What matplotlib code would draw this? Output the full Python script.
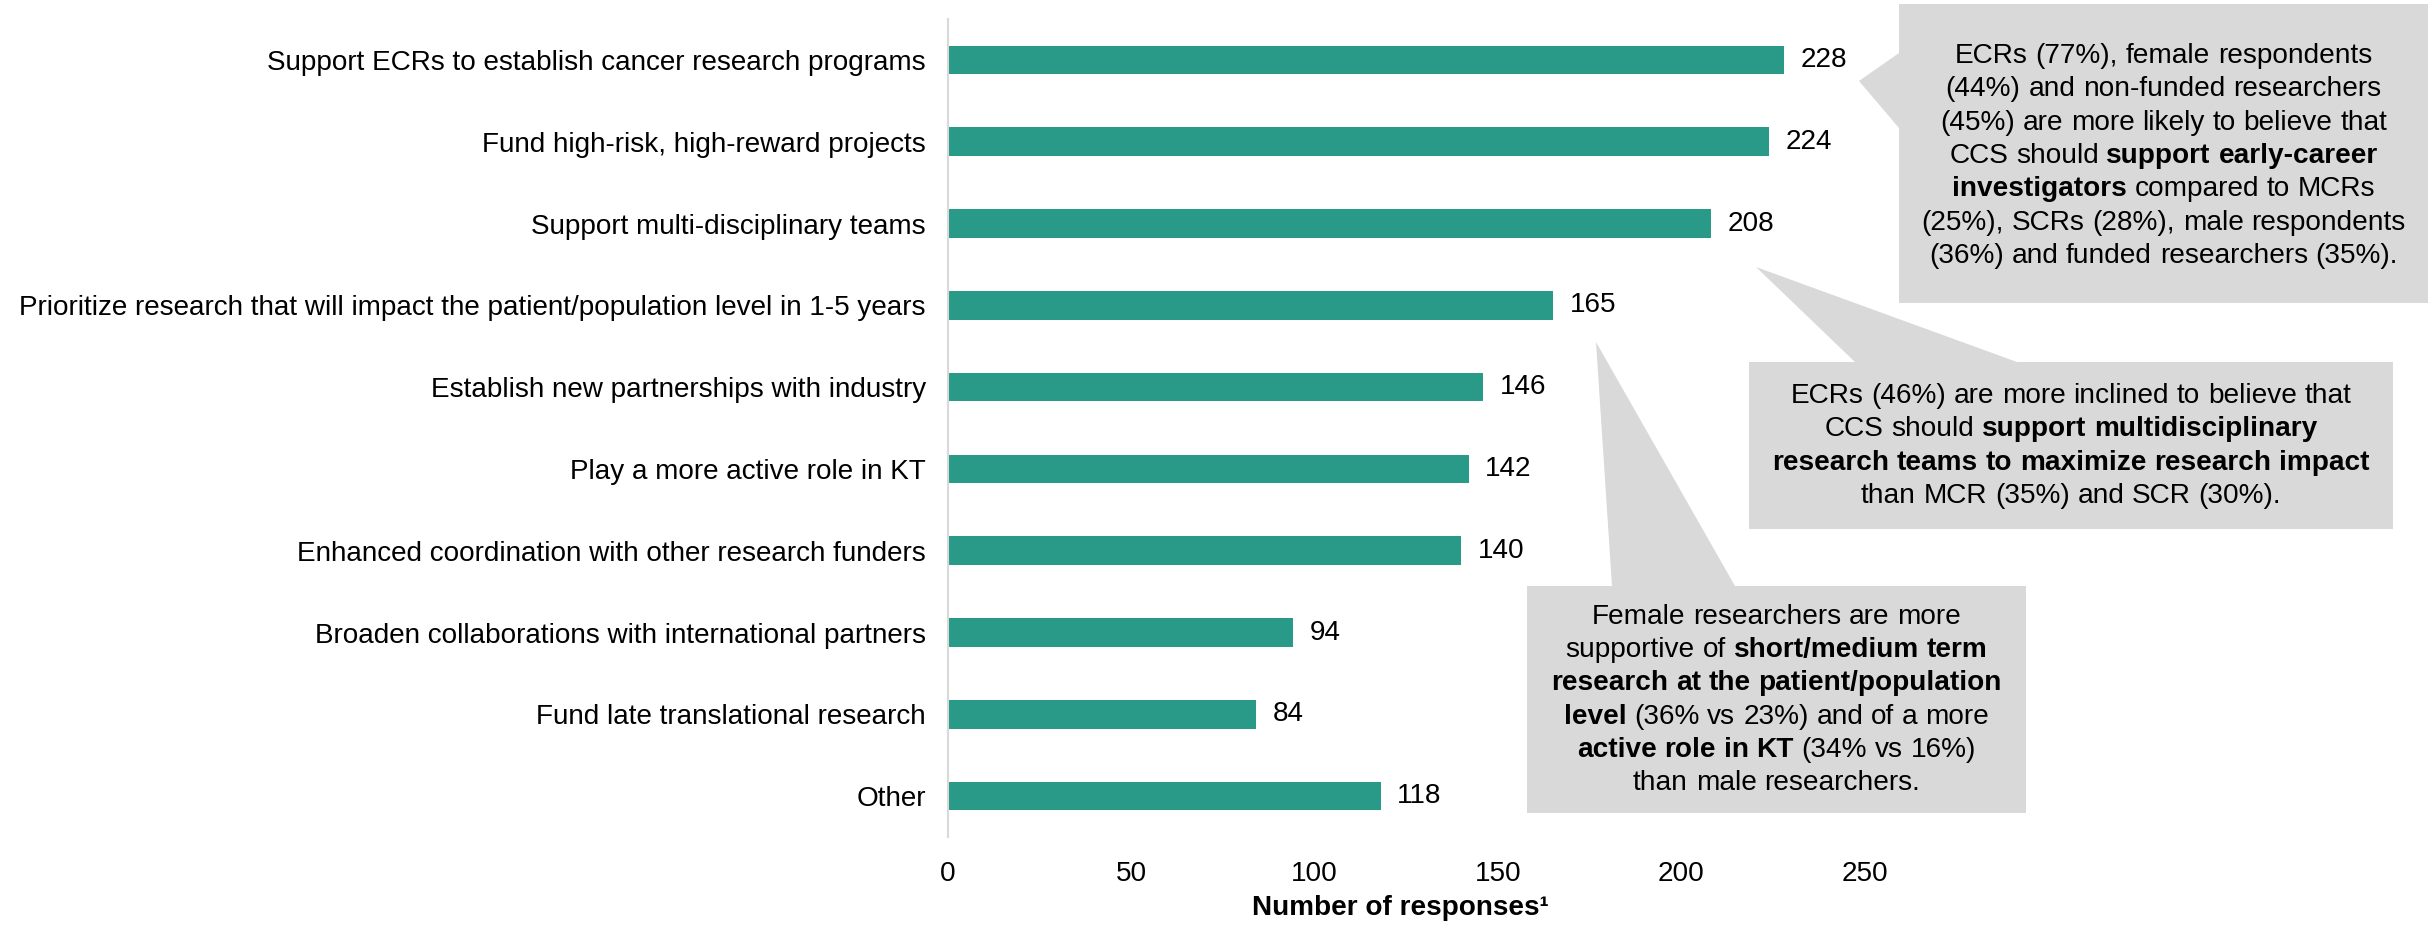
import matplotlib
matplotlib.use("Agg")
import matplotlib.pyplot as plt
from matplotlib.patches import Polygon
from matplotlib.offsetbox import TextArea, HPacker, AnnotationBbox

plt.rcParams['font.family'] = ['Liberation Sans', 'DejaVu Sans']

# survey results
categories = [
    "Support ECRs to establish cancer research programs",
    "Fund high-risk, high-reward projects",
    "Support multi-disciplinary teams",
    "Prioritize research that will impact the patient/population level in 1-5 years",
    "Establish new partnerships with industry",
    "Play a more active role in KT",
    "Enhanced coordination with other research funders",
    "Broaden collaborations with international partners",
    "Fund late translational research",
    "Other",
]
responses = [228, 224, 208, 165, 146, 142, 140, 94, 84, 118]
xticks = [0, 50, 100, 150, 200, 250]

# callout texts, **...** = bold
note_ecr = [
    "ECRs (77%), female respondents",
    "(44%) and non-funded researchers",
    "(45%) are more likely to believe that",
    "CCS should **support early-career**",
    "**investigators** compared to MCRs",
    "(25%), SCRs (28%), male respondents",
    "(36%) and funded researchers (35%).",
]
note_multi = [
    "ECRs (46%) are more inclined to believe that",
    "CCS should **support multidisciplinary**",
    "**research teams to maximize research impact**",
    "than MCR (35%) and SCR (30%).",
]
note_female = [
    "Female researchers are more",
    "supportive of **short/medium term**",
    "**research at the patient/population**",
    "**level** (36% vs 23%) and of a more",
    "**active role in KT** (34% vs 16%)",
    "than male researchers.",
]

W, H = 2432, 926
FS = 20.1
NOTE_FS = 20.2
BAR = "#2A9A88"
NOTE_BG = "#D9D9D9"

fig = plt.figure(figsize=(W / 100, H / 100), dpi=100)
ax = fig.add_axes([948 / W, 1 - 837 / H, 1100 / W, (837 - 19) / H])

ypos = list(range(len(categories)))
bars = ax.barh(ypos, responses, height=0.35, color=BAR)
ax.bar_label(bars, padding=12, fontsize=FS)

ax.set_ylim(len(categories) - 0.5, -0.5)
ax.set_xlim(0, 300)
ax.set_yticks(ypos)
ax.set_yticklabels(categories)
ax.set_xticks(xticks)
ax.tick_params(axis='y', length=0, pad=16, labelsize=FS)
ax.tick_params(axis='x', length=0, pad=17, labelsize=FS)
for s in ('top', 'right', 'bottom'):
    ax.spines[s].set_visible(False)
ax.spines['left'].set_color(NOTE_BG)
ax.spines['left'].set_linewidth(1.5)

ax.set_xlabel("Number of responses¹", fontsize=FS, fontweight='bold')
ax.xaxis.set_label_coords((1400 - 948) / 1100, -(908 - 837) / 818)
ax.xaxis.label.set_va('center')

# overlay in pixel coords for the callouts
ov = fig.add_axes([0, 0, 1, 1])
ov.set_xlim(0, W)
ov.set_ylim(H, 0)
ov.axis('off')
ov.patch.set_visible(False)


def rich_line(line, size):
    words = []
    for k, part in enumerate(line.split('**')):
        weight = 'bold' if k % 2 else 'normal'
        for w in part.split():
            words.append(TextArea(w, textprops=dict(fontsize=size, fontweight=weight, color='black')))
    return HPacker(children=words, sep=size * 0.278, pad=0, align='baseline')


def callout(shape, lines, cx, cy, step=33.3):
    ov.add_patch(Polygon(shape, closed=True, facecolor=NOTE_BG, edgecolor='none'))
    n = len(lines)
    for i, line in enumerate(lines):
        y = cy + (i - (n - 1) / 2) * step
        ab = AnnotationBbox(rich_line(line, NOTE_FS), (cx, y), xycoords=ov.transData,
                            frameon=False, box_alignment=(0.5, 0.5), pad=0)
        ov.add_artist(ab)


callout([(1899, 4), (2428, 4), (2428, 303), (1899, 303), (1899, 128), (1859, 81), (1899, 53)],
        note_ecr, (1899 + 2428) / 2, 156)
callout([(1749, 362), (1855, 362), (1756, 267), (2017, 362), (2393, 362), (2393, 529), (1749, 529)],
        note_multi, (1749 + 2393) / 2, 446)
callout([(1527, 586), (1612, 586), (1596, 342), (1735, 586), (2026, 586), (2026, 813), (1527, 813)],
        note_female, (1527 + 2026) / 2, 700)

fig.savefig("out.png", dpi=100)
